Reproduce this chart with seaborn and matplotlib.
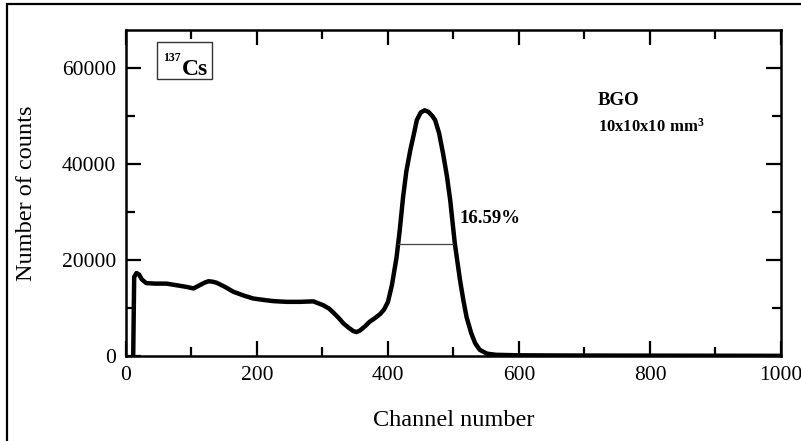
"""
137Cs spectrum measured with a BGO crystal (10x10x10 mm^3)
"""
import matplotlib
matplotlib.use("Agg")
import matplotlib.pyplot as plt
import matplotlib.transforms as mtransforms
import seaborn as sns
import pandas as pd
from matplotlib.patches import Rectangle
from matplotlib.ticker import MultipleLocator

# ========== Data ==========
channel = [11, 12.5, 16, 20, 24, 31, 45, 62, 80, 93, 103, 113, 120, 126, 132, 138, 150,
           164, 180, 194, 210, 225, 245, 266, 286, 301, 310, 317, 325, 332, 340, 347, 352,
           357, 365, 372, 380, 388, 394, 400, 406, 413, 418, 423, 428, 434, 440, 444, 450,
           456, 462, 468, 472, 478, 484, 490, 495, 502, 510, 515, 520, 527, 533, 540, 551,
           565, 600, 650, 700, 800, 900, 1000]
counts = [0, 16500, 17300, 17000, 16000, 15200, 15100, 15100, 14700, 14400, 14100, 14800, 15300,
          15600, 15500, 15300, 14500, 13400, 12600, 12000, 11700, 11450, 11300, 11300, 11400,
          10600, 9900, 9000, 7900, 6800, 5900, 5200, 5000, 5300, 6200, 7150, 7900, 8750, 9700,
          11300, 14800, 20500, 26300, 33100, 38500, 42900, 46600, 49200, 50800, 51250, 50900,
          50000, 49200, 46500, 42300, 37500, 32500, 23500, 15800, 11700, 8100, 4800, 2700, 1300,
          500, 250, 150, 120, 100, 80, 60, 40]
spectrum = pd.DataFrame({"channel": channel, "counts": counts})

# FWHM marker
fwhm_left, fwhm_right, fwhm_level = 415, 499, 23300
resolution_label = "16.59%"

# ========== Plot ==========
sns.set_theme(style="ticks")
plt.rcParams["font.family"] = ["Liberation Serif", "DejaVu Serif"]
plt.rcParams["mathtext.fontset"] = "custom"
plt.rcParams["mathtext.rm"] = "Liberation Serif"
plt.rcParams["mathtext.bf"] = "Liberation Serif:bold"
for key in ["text.color", "axes.labelcolor", "xtick.color", "ytick.color", "axes.edgecolor"]:
    plt.rcParams[key] = "black"

fig = plt.figure(figsize=(8.01, 4.41), dpi=100)
ax = fig.add_axes([0.1573, 0.1927, 0.8177, 0.7393])

sns.lineplot(data=spectrum, x="channel", y="counts", ax=ax, color="black",
             linewidth=3.2, estimator=None, sort=False)
ax.plot([fwhm_left, fwhm_right], [fwhm_level, fwhm_level], color="#444444", linewidth=0.9)

ax.set_xlim(0, 1000)
ax.set_ylim(0, 68000)
ax.xaxis.set_major_locator(MultipleLocator(200))
ax.xaxis.set_minor_locator(MultipleLocator(100))
ax.yaxis.set_major_locator(MultipleLocator(20000))
ax.yaxis.set_minor_locator(MultipleLocator(10000))
ax.tick_params(which="both", direction="in", top=True, right=True, width=1.6,
               color="black", labelsize=15.5, pad=7)
ax.tick_params(which="major", length=11)
ax.tick_params(which="minor", length=6.5)
for s in ax.spines.values():
    s.set_linewidth(1.8)

ax.set_xlabel("Channel number", fontsize=17.5, labelpad=18)
ax.set_ylabel("Number of counts", fontsize=17.5, labelpad=18)

# keep the last x tick label inside the picture
fig.canvas.draw()
last = ax.get_xticklabels()[-1]
last.set_transform(last.get_transform() +
                   mtransforms.ScaledTranslation(-3 / 100, 0, fig.dpi_scale_trans))

# isotope label in a box
ax.add_patch(Rectangle((0.0473, 0.8497), 0.084, 0.1133, transform=ax.transAxes,
                       fill=False, ec="#333333", lw=1.0))
ax.text(0.0565, 0.915, "137", transform=ax.transAxes, fontsize=8.5, fontweight="bold",
        va="center", ha="left")
ax.text(0.085, 0.862, "Cs", transform=ax.transAxes, fontsize=17, fontweight="bold",
        va="baseline", ha="left")

ax.text(720, 53300, "BGO", fontsize=13.5, fontweight="bold", va="center", ha="left")
ax.text(720, 47800, r"$\mathbf{10x10x10\ mm^3}$", fontsize=12, va="center", ha="left")
ax.text(509, 28700, resolution_label, fontsize=13.5, fontweight="bold", va="center", ha="left")

# outer frame around the figure
fig.patches.append(Rectangle((0.009, -0.05), 1.2, 1.041,
                             transform=fig.transFigure, fill=False, ec="black", lw=1.6))

plt.savefig("out.png", dpi=100)
plt.close()
